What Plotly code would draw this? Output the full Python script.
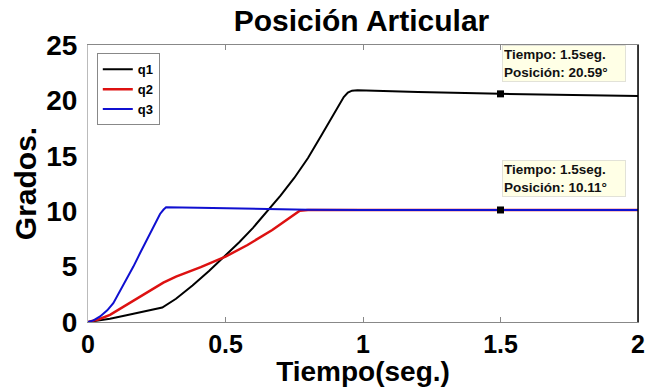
import plotly.graph_objects as go

# ---- data ----
t_q1 = [0, 0.04, 0.08, 0.14, 0.21, 0.27, 0.32, 0.38, 0.44, 0.50, 0.55, 0.60, 0.65,
        0.70, 0.75, 0.80, 0.85, 0.90, 0.93, 0.945, 0.96, 0.98, 1.0, 1.2, 1.5, 1.75, 2.0]
q1 = [0, 0.12, 0.3, 0.6, 1.0, 1.3, 2.1, 3.3, 4.6, 6.0, 7.2, 8.5, 9.9,
      11.4, 13.0, 14.8, 16.9, 19.0, 20.3, 20.7, 20.88, 20.92, 20.9, 20.76, 20.59, 20.5, 20.4]

t_q2 = [0, 0.04, 0.08, 0.14, 0.20, 0.25, 0.274, 0.32, 0.41, 0.50, 0.58, 0.67,
        0.72, 0.75, 0.77, 0.80, 1.0, 1.5, 2.0]
q2 = [0, 0.25, 0.65, 1.55, 2.45, 3.26, 3.56, 4.1, 4.95, 5.9, 6.95, 8.3,
      9.2, 9.75, 10.05, 10.11, 10.11, 10.11, 10.11]

t_q3 = [0, 0.02, 0.044, 0.07, 0.092, 0.115, 0.14, 0.165, 0.189, 0.21, 0.225, 0.245,
        0.262, 0.275, 0.284, 0.4, 0.5, 0.6, 0.7, 0.8, 1.0, 1.5, 2.0]
q3 = [0, 0.15, 0.5, 1.05, 1.7, 2.7, 3.8, 5.0, 6.2, 7.2, 8.0, 9.0,
      9.75, 10.15, 10.35, 10.32, 10.28, 10.22, 10.16, 10.12, 10.11, 10.11, 10.11]

mark_t = [1.5, 1.5]
mark_v = [20.59, 10.11]
mark_labels = ["Tiempo: 1.5seg.<br>Posición: 20.59°", "Tiempo: 1.5seg.<br>Posición: 10.11°"]

x_ticks = [0, 0.5, 1, 1.5, 2]
y_ticks = [0, 5, 10, 15, 20, 25]

FONT = "Liberation Sans, Arial, sans-serif"

fig = go.Figure()
fig.add_trace(go.Scatter(x=t_q1, y=q1, mode="lines", name="q1",
                         line=dict(color="#000000", width=2)))
fig.add_trace(go.Scatter(x=t_q2, y=q2, mode="lines", name="q2",
                         line=dict(color="#dd1111", width=2.5)))
fig.add_trace(go.Scatter(x=t_q3, y=q3, mode="lines", name="q3",
                         line=dict(color="#1010d0", width=2)))
fig.add_trace(go.Scatter(x=mark_t, y=mark_v, mode="markers", showlegend=False,
                         marker=dict(symbol="square", size=7, color="black")))

# data-tip boxes anchored on the marked points
for tx, vy, lab, ys in zip(mark_t, mark_v, mark_labels, [12, 13]):
    fig.add_annotation(x=tx, y=vy, text=lab, showarrow=False,
                       xanchor="left", yanchor="bottom", xshift=1, yshift=ys,
                       align="left", width=120, height=33, valign="middle",
                       bgcolor="#ffffe6", bordercolor="#e2e2d8",
                       borderwidth=1, borderpad=1,
                       font=dict(family=FONT, size=13.5, color="#111111", weight="bold"))

# right border in black
fig.add_shape(type="line", xref="paper", yref="paper", x0=1, x1=1, y0=0, y1=1,
              line=dict(color="black", width=1.5))

fig.update_layout(
    width=649, height=387,
    margin=dict(l=88, r=11, t=45, b=65, autoexpand=False),
    paper_bgcolor="white", plot_bgcolor="white",
    title=dict(text="<b>Posición Articular</b>", x=0.557, xanchor="center",
               y=0.948, yanchor="middle",
               font=dict(family=FONT, size=30, color="black")),
    showlegend=True,
    legend=dict(x=0.016, y=0.97, xanchor="left", yanchor="top",
                bgcolor="white", bordercolor="#888888", borderwidth=1,
                font=dict(family=FONT, size=13, color="black", weight="bold"),
                tracegroupgap=0, itemwidth=30),
    xaxis=dict(range=[0, 2], tickvals=x_ticks, ticktext=[str(v) for v in x_ticks],
               ticks="inside", ticklen=5, tickcolor="#888888", automargin=False,
               showline=True, linecolor="#888888", mirror="ticks", showgrid=False,
               zeroline=False, ticklabelstandoff=0,
               tickfont=dict(family=FONT, size=25, color="black", weight="bold"),
               title=dict(text="<b>Tiempo(seg.)</b>", standoff=7,
                          font=dict(family=FONT, size=28, color="black"))),
    yaxis=dict(range=[0, 25], tickvals=y_ticks, ticktext=[str(v) for v in y_ticks],
               ticks="inside", ticklen=0, tickcolor="#888888", automargin=False,
               showline=True, linecolor="#bbbbbb", mirror=True, showgrid=False,
               zeroline=False, ticklabelstandoff=4,
               tickfont=dict(family=FONT, size=28, color="black", weight="bold"),
               title=dict(text="<b>Grados.</b>", standoff=0,
                          font=dict(family=FONT, size=30, color="black"))),
)

fig.write_html("out.html", config={"displayModeBar": False},
               post_script="document.body.style.margin='0';")
